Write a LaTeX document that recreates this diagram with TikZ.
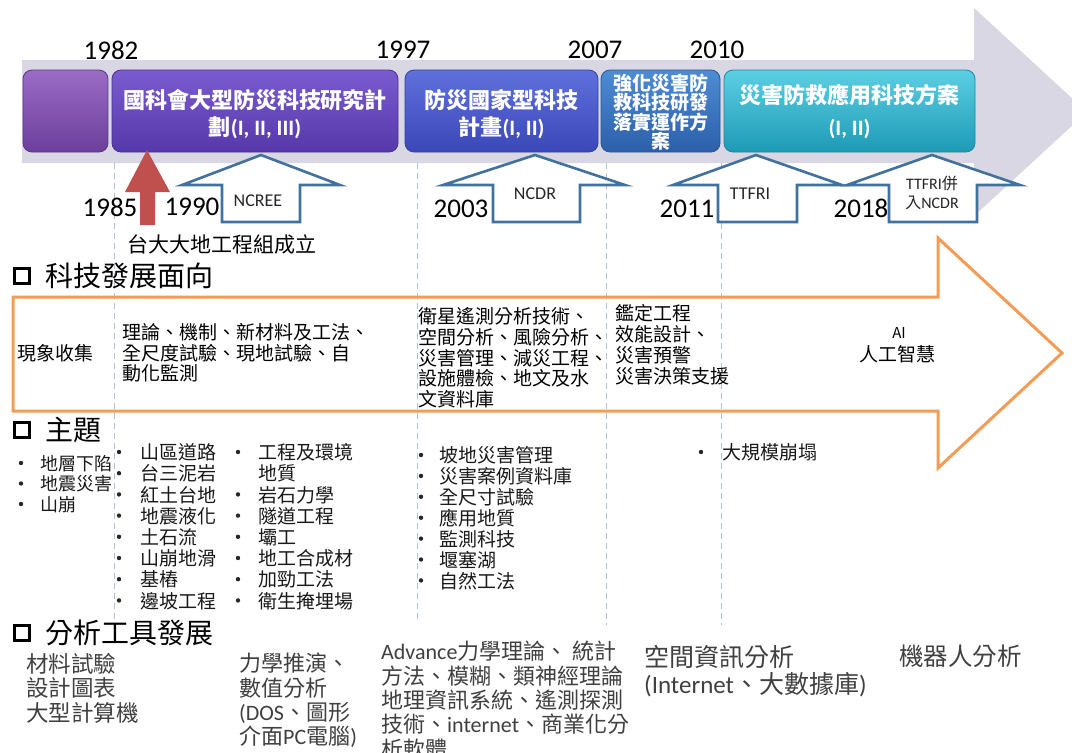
\documentclass[tikz,border=0pt]{standalone}
\usepackage{fontspec}
\setmainfont{Noto Sans CJK TC}
\newfontfamily\yr{Carlito}
\definecolor{barg}{HTML}{D9D7E4}
\definecolor{orng}{HTML}{F39C55}
\definecolor{navy}{HTML}{41719C}
\definecolor{redar}{HTML}{C0504D}
\definecolor{dashc}{HTML}{B3C1D8}
\definecolor{gtxt}{HTML}{404040}
\tikzset{
  tlbox/.style={rectangle, rounded corners=9pt, inner sep=0pt, line width=0.8pt},
  boxtxt/.style={text=white, font=\bfseries\fontsize{22}{27}\selectfont, align=center, inner sep=0pt},
  yearlbl/.style={font=\yr\fontsize{27}{30}\selectfont, inner sep=0pt},
  arrlbl/.style={font=\yr\fontsize{18}{20}\selectfont, inner sep=0pt, text=black!85, align=center},
  outarr/.style={draw=navy, line width=2.6pt, fill=white, line join=miter},
  vdash/.style={draw=dashc, line width=0.8pt, dash pattern=on 6pt off 4pt},
  hdr/.style={font=\fontsize{28}{32}\selectfont, anchor=west, inner sep=0pt},
  hdrsq/.style={draw=black, line width=3.7pt, minimum size=15pt, inner sep=0pt},
  otext/.style={font=\fontsize{19}{20.7}\selectfont, align=left, anchor=north west, inner sep=0pt},
  topic/.style={font=\fontsize{19}{21.2}\selectfont, align=left, anchor=north west, inner sep=0pt, text=black!90},
  tool/.style={font=\fontsize{22.5}{24.5}\selectfont, align=left, anchor=north west, inner sep=0pt, text=gtxt},
  bul/.style={fill=black!85},
}
\begin{document}
\begin{tikzpicture}[x=1pt,y=-1pt]
\useasboundingbox (0,0) rectangle (1072,753);
\fill[white] (0,0) rectangle (1072,753);

% big grey timeline arrow
\fill[barg] (22,60) -- (974,60) -- (974,8) -- (1087,112) -- (974,216) -- (974,163) -- (22,163) -- cycle;

% programme boxes
\node[tlbox, top color={rgb,255:red,154;green,108;blue,198}, bottom color={rgb,255:red,108;green,63;blue,156}, draw={rgb,255:red,90;green,53;blue,133}, minimum width=85pt, minimum height=82pt] (b0) at (65.5,111) {};
\node[tlbox, top color={rgb,255:red,122;green,92;blue,208}, bottom color={rgb,255:red,86;green,56;blue,170}, draw={rgb,255:red,74;green,47;blue,149}, minimum width=286pt, minimum height=82pt] (b1) at (255,111) {};
\node[tlbox, top color={rgb,255:red,95;green,112;blue,220}, bottom color={rgb,255:red,59;green,72;blue,184}, draw={rgb,255:red,52;green,64;blue,160}, minimum width=193pt, minimum height=82pt] (b2) at (501.5,111) {};
\node[tlbox, top color={rgb,255:red,77;green,140;blue,212}, bottom color={rgb,255:red,44;green,95;blue,170}, draw={rgb,255:red,40;green,85;blue,149}, minimum width=119pt, minimum height=82pt] (b3) at (660.5,111) {};
\node[tlbox, top color={rgb,255:red,92;green,207;blue,227}, bottom color={rgb,255:red,30;green,154;blue,182}, draw={rgb,255:red,28;green,136;blue,162}, minimum width=251pt, minimum height=82pt] (b4) at (849.5,111) {};

\node[boxtxt] (t1) at (255,114.5) {國科會大型防災科技研究計\\劃{\yr(I, II, III)}};
\node[boxtxt] (t2) at (501.5,114.5) {防災國家型科技\\計畫{\yr(I, II)}};
\node[boxtxt, font=\bfseries\fontsize{19}{19.5}\selectfont] (t3) at (660.5,112) {強化災害防\\救科技研發\\落實運作方\\案};
\node[boxtxt, font=\bfseries\fontsize{22}{32}\selectfont] (t4) at (849.5,112) {災害防救應用科技方案\\{\yr(I, II)}};

% dashed era separators
\coordinate (d1a) at (114,163); \coordinate (d1b) at (114,622);
\coordinate (d2a) at (417,163); \coordinate (d2b) at (417,622);
\coordinate (d3a) at (606,163); \coordinate (d3b) at (606,625);
\coordinate (d4a) at (721,163); \coordinate (d4b) at (721,625);
\draw[vdash] (d1a) -- (d1b);
\draw[vdash] (d2a) -- (d2b);
\draw[vdash] (d3a) -- (d3b);
\draw[vdash] (d4a) -- (d4b);

% years
\node[yearlbl] (y1982) at (111,50) {1982};
\node[yearlbl] (y1997) at (403,50) {1997};
\node[yearlbl] (y2007) at (595,50) {2007};
\node[yearlbl] (y2010) at (717,50) {2010};
\node[yearlbl] (y1985) at (110,207) {1985};
\node[yearlbl] (y1990) at (192,207) {1990};
\node[yearlbl] (y2003) at (461,209) {2003};
\node[yearlbl] (y2011) at (687,209) {2011};
\node[yearlbl] (y2018) at (861,208) {2018};

% institute arrows
\draw[outarr] (261,155) -- (340,185) -- (300,185) -- (300,222) -- (222,222) -- (222,185) -- (182,185) -- cycle;
\draw[outarr] (535,155) -- (625,185) -- (580,185) -- (580,222) -- (493,222) -- (493,185) -- (443,185) -- cycle;
\draw[outarr] (756,155) -- (842,185) -- (797,185) -- (797,222) -- (718,222) -- (718,185) -- (673,185) -- cycle;
\draw[outarr] (932,155) -- (1020,185) -- (977,185) -- (977,222) -- (889,222) -- (889,185) -- (847,185) -- cycle;
\node[arrlbl] (ncree) at (258,201) {NCREE};
\node[arrlbl] (ncdr) at (535,194) {NCDR};
\node[arrlbl] (ttfri) at (750,194) {TTFRI};
\node[arrlbl, font=\yr\fontsize{16}{19}\selectfont] (ttfri2) at (932,193) {TTFRI{\rmfamily 併}\\{\rmfamily 入}NCDR};

% red arrow
\fill[redar] (147,150) -- (170,192) -- (155,192) -- (155,225) -- (140,225) -- (140,192) -- (125,192) -- cycle;
\node[font=\fontsize{21}{24}\selectfont, inner sep=0pt] (ntu) at (222,245) {台大大地工程組成立};

% section 1
\node[hdrsq] (sq1) at (22,276) {};
\node[hdr] (h1) at (45,276) {科技發展面向};
\draw[orng, line width=3pt, line join=miter] (13,297) -- (938,297) -- (938,238) -- (1062,353) -- (938,468) -- (938,411) -- (13,411) -- cycle;
\node[font=\fontsize{19}{21}\selectfont, anchor=west, inner sep=0pt] (o1) at (17,353) {現象收集};
\node[otext, font=\fontsize{19}{20.5}\selectfont] (o2) at (122,323.5) {理論、機制、新材料及工法、\\全尺度試驗、現地試驗、自\\動化監測};
\node[otext] (o3) at (418,307.5) {衛星遙測分析技術、\\空間分析、風險分析、\\災害管理、減災工程、\\設施體檢、地文及水\\文資料庫};
\node[otext, font=\fontsize{19}{21}\selectfont] (o4) at (615,304.5) {鑑定工程\\效能設計、\\災害預警\\災害決策支援};
\node[font=\fontsize{15}{17}\selectfont, inner sep=0pt] (o5a) at (899,333) {AI};
\node[font=\fontsize{19}{21}\selectfont, inner sep=0pt] (o5b) at (897,354) {人工智慧};

% section 2
\node[hdrsq] (sq2) at (22,430) {};
\node[hdr] (h2) at (45,430) {主題};
\node[topic, font=\fontsize{18}{20.5}\selectfont] (c1) at (40,455) {地層下陷\\地震災害\\山崩};
\foreach \i in {0,1,2} \fill[bul] (21,463+20.5*\i) circle (2.2pt);
\node[topic] (c2) at (140,443.5) {山區道路\\台三泥岩\\紅土台地\\地震液化\\土石流\\山崩地滑\\基樁\\邊坡工程};
\foreach \i in {0,...,7} \fill[bul] (119,452+21.2*\i) circle (2.2pt);
\node[topic] (c3) at (258,443.5) {工程及環境\\地質\\岩石力學\\隧道工程\\壩工\\地工合成材\\加勁工法\\衛生掩埋場};
\foreach \i in {0,2,3,4,5,6,7} \fill[bul] (238,452+21.2*\i) circle (2.2pt);
\node[topic, font=\fontsize{19}{20.9}\selectfont] (c4) at (439,446.5) {坡地災害管理\\災害案例資料庫\\全尺寸試驗\\應用地質\\監測科技\\堰塞湖\\自然工法};
\foreach \i in {0,...,6} \fill[bul] (421,455+20.9*\i) circle (2.2pt);
\node[topic, anchor=west] (c5) at (722,452) {大規模崩塌};
\fill[bul] (701,452) circle (2.2pt);

% section 3
\node[hdrsq] (sq3) at (22,633) {};
\node[hdr] (h3) at (45,633) {分析工具發展};
\node[tool] (a1) at (26,653) {材料試驗\\設計圖表\\大型計算機};
\node[tool, font=\fontsize{22}{24.3}\selectfont] (a2) at (239,653) {力學推演、\\數值分析\\{\yr(DOS}、圖形\\介面{\yr PC}電腦{\yr)}};
\node[tool, font=\fontsize{22}{24.3}\selectfont] (a3) at (381,641.2) {{\yr Advance}力學理論、 統計\\方法、模糊、類神經理論\\地理資訊系統、遙測探測\\技術、{\yr internet}、商業化分\\析軟體};
\node[tool, font=\fontsize{25}{27}\selectfont] (a4) at (644,644.8) {空間資訊分析\\{\yr(Internet}、大數據庫{\yr)}};
\node[tool, font=\fontsize{24.5}{27}\selectfont, anchor=west] (a5) at (899,656) {機器人分析};
\end{tikzpicture}
\end{document}
